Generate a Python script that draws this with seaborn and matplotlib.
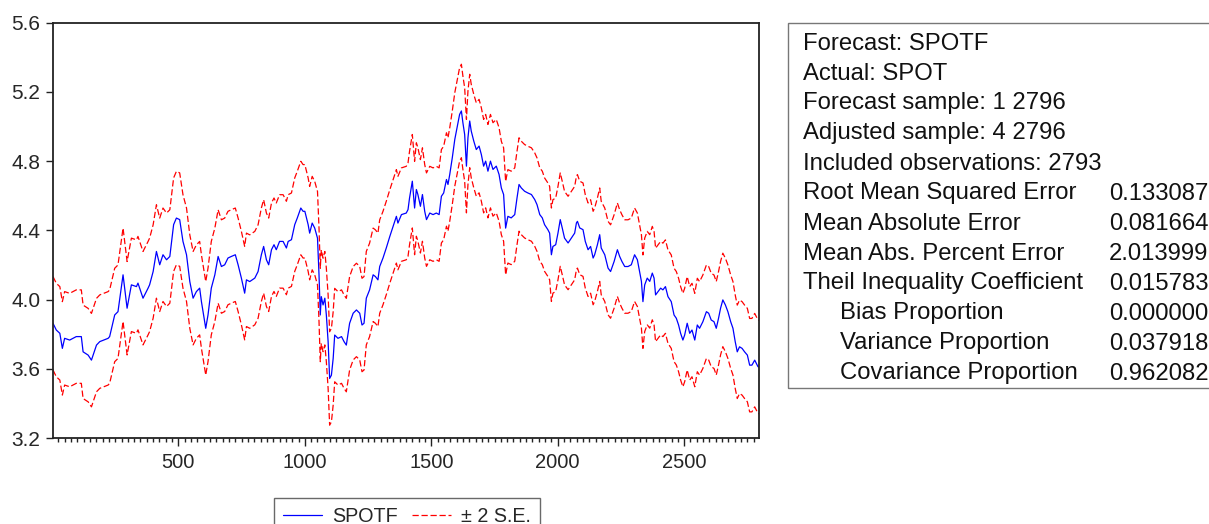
import matplotlib
matplotlib.use("Agg")
import matplotlib.pyplot as plt
import seaborn as sns
from matplotlib.patches import Rectangle
from matplotlib.ticker import MultipleLocator, FormatStrFormatter

obs = [4, 17, 31, 41, 50, 70, 96, 116, 123, 143, 156, 176, 189, 222, 228, 248,
       261, 281, 297, 314, 334, 340, 360, 380, 386, 400, 413, 426, 439, 453,
       466, 481, 492, 505, 518, 532, 545, 558, 571, 584, 591, 604, 608, 617,
       630, 644, 657, 670,
       683, 696, 709, 725, 736, 749, 762, 769, 782, 802, 815, 828, 837, 848,
       857, 868, 878, 887, 900, 914, 927, 934, 947, 960, 970, 984, 993, 1000,
       1013, 1019, 1029, 1039, 1050, 1056, 1061, 1065, 1072, 1079, 1085, 1092,
       1098, 1105, 1112, 1118, 1131, 1145, 1155, 1164, 1177, 1191, 1204, 1217,
       1226, 1234, 1243, 1256, 1270, 1279, 1289, 1296, 1309, 1322, 1336, 1349,
       1362, 1368, 1382,
       1401, 1408, 1414, 1425, 1434, 1441, 1447, 1457, 1465, 1474, 1481, 1494,
       1507, 1520, 1531, 1540, 1549, 1560, 1566, 1573, 1583, 1593, 1602, 1612,
       1619, 1625, 1632, 1639, 1645, 1652, 1658, 1668, 1678, 1689, 1698, 1707,
       1715, 1724, 1734, 1744, 1757, 1768, 1777, 1786, 1794, 1803, 1816, 1830,
       1839, 1847, 1856, 1869, 1882, 1896, 1909, 1918, 1929, 1939, 1948, 1961,
       1968, 1975, 1981, 1992, 2001, 2010, 2018, 2027, 2041, 2054, 2067, 2074,
       2078, 2087, 2100, 2109, 2120, 2130, 2140, 2146, 2157, 2166, 2172, 2186,
       2199, 2209, 2223, 2236, 2245, 2254, 2265, 2278, 2291, 2304, 2315, 2321,
       2331, 2337, 2344, 2354, 2364, 2374, 2381, 2387, 2397, 2407, 2416, 2426,
       2436, 2449, 2460, 2469, 2478, 2486, 2495, 2502, 2512, 2522, 2531, 2542,
       2552, 2561, 2574, 2588, 2597, 2607, 2618, 2627, 2636, 2644, 2653, 2663,
       2673, 2684, 2693, 2702, 2710, 2719, 2729, 2739, 2750, 2759, 2768, 2779,
       2792, 2796]

spotf = [3.863, 3.824, 3.805, 3.718, 3.776, 3.766, 3.786, 3.786, 3.698, 3.679,
         3.650, 3.737, 3.757, 3.776, 3.786, 3.911, 3.930, 4.143, 3.950, 4.085,
         4.075, 4.095, 4.008, 4.066, 4.085, 4.162, 4.278, 4.201, 4.259, 4.230,
         4.249, 4.433, 4.471, 4.462, 4.336, 4.259, 4.104, 4.008, 4.046, 4.066,
         3.988, 3.872, 3.834, 3.911, 4.066, 4.143, 4.249, 4.191,
         4.201, 4.240, 4.249, 4.259, 4.201, 4.124, 4.037, 4.114, 4.104, 4.124,
         4.162, 4.259, 4.307, 4.230, 4.201, 4.288, 4.317, 4.288, 4.336, 4.336,
         4.298, 4.336, 4.346, 4.433, 4.471, 4.529, 4.510, 4.510, 4.433, 4.384,
         4.442, 4.413, 4.355, 4.143, 3.911, 4.017, 3.969, 4.008, 3.911, 3.757,
         3.544, 3.563, 3.660, 3.795, 3.776, 3.786, 3.757, 3.737, 3.863, 3.921,
         3.940, 3.921, 3.853, 3.863, 4.008, 4.056, 4.143, 4.133, 4.114, 4.191,
         4.240, 4.298, 4.365, 4.423, 4.481, 4.442, 4.491,
         4.500, 4.520, 4.587, 4.684, 4.529, 4.636, 4.607, 4.539, 4.607, 4.510,
         4.462, 4.500, 4.491, 4.500, 4.491, 4.597, 4.616, 4.694, 4.665, 4.723,
         4.819, 4.926, 4.993, 5.070, 5.090, 5.022, 4.954, 4.771, 4.935, 5.032,
         4.974, 4.916, 4.867, 4.887, 4.838, 4.771, 4.800, 4.742, 4.800, 4.752,
         4.771, 4.723, 4.645, 4.607, 4.413, 4.481, 4.472, 4.491, 4.587, 4.665,
         4.645, 4.626, 4.616, 4.607, 4.578, 4.549, 4.491, 4.472, 4.433, 4.404,
         4.384, 4.259, 4.307, 4.317, 4.384, 4.462, 4.413, 4.355, 4.327, 4.355,
         4.384, 4.443,
         4.452, 4.414, 4.404, 4.336, 4.288, 4.307, 4.240, 4.259, 4.317, 4.375,
         4.298, 4.259, 4.182, 4.162, 4.220, 4.288, 4.249, 4.220, 4.191, 4.191,
         4.201, 4.259, 4.230, 4.182, 4.105, 3.988, 4.085, 4.124, 4.105, 4.153,
         4.124, 4.027, 4.046, 4.066, 4.056, 4.075, 4.017, 3.988, 3.911, 3.892,
         3.853, 3.805, 3.766, 3.795, 3.863, 3.805, 3.824, 3.766, 3.853, 3.834,
         3.872, 3.930, 3.921, 3.882, 3.872, 3.834, 3.892, 3.950, 3.998, 3.969,
         3.930, 3.872, 3.834, 3.756, 3.698, 3.727, 3.718, 3.698, 3.679, 3.621,
         3.621, 3.650, 3.612, 3.610]

two_se = 0.27  # half-width of the forecast band

upper = [v + two_se for v in spotf]
lower = [v - two_se for v in spotf]

stat_names = ["Forecast: SPOTF", "Actual: SPOT", "Forecast sample: 1 2796",
              "Adjusted sample: 4 2796", "Included observations: 2793",
              "Root Mean Squared Error", "Mean Absolute Error",
              "Mean Abs. Percent Error", "Theil Inequality Coefficient",
              "Bias Proportion", "Variance Proportion",
              "Covariance Proportion"]
stat_indent = [False] * 9 + [True] * 3
stat_values = ["", "", "", "", "", "0.133087", "0.081664", "2.013999",
               "0.015783", "0.000000", "0.037918", "0.962082"]

yticks = [3.2, 3.6, 4.0, 4.4, 4.8, 5.2, 5.6]
xticks = [500, 1000, 1500, 2000, 2500]

sns.set_theme(style="white")
plt.rcParams['font.family'] = ['Liberation Sans', 'DejaVu Sans']

W, H = 1209, 524
fig = plt.figure(figsize=(W / 100, H / 100), dpi=100)
ax = fig.add_axes([53 / W, 1 - 438 / H, (759 - 53) / W, (438 - 22.7) / H])

sns.lineplot(x=obs, y=spotf, ax=ax, color="#0000ff", lw=0.9, label="SPOTF")
sns.lineplot(x=obs, y=upper, ax=ax, color="#ff0000", lw=0.9,
             linestyle=(0, (5, 2.2)), label="\u00b1 2 S.E.")
sns.lineplot(x=obs, y=lower, ax=ax, color="#ff0000", lw=0.9,
             linestyle=(0, (5, 2.2)))

ax.set_xlim(4, 2796)
ax.set_ylim(3.2, 5.6)
ax.set_xticks(xticks)
ax.set_yticks(yticks)
ax.yaxis.set_major_formatter(FormatStrFormatter("%.1f"))
ax.xaxis.set_minor_locator(MultipleLocator(25))
ax.tick_params(axis="x", which="major", direction="out", length=6, width=1,
               color="#222222", labelsize=14.5, pad=5, bottom=True)
ax.tick_params(axis="x", which="minor", direction="out", length=3, width=1,
               color="#222222", bottom=True)
ax.tick_params(axis="y", which="major", direction="out", length=5, width=1,
               color="#222222", labelsize=15, pad=4, left=True)
for s in ax.spines.values():
    s.set_visible(True)
    s.set_color("#222222")
    s.set_linewidth(1.3)
ax.set_xlabel("")
ax.set_ylabel("")

handles, labels = ax.get_legend_handles_labels()
ax.get_legend().remove()
leg = fig.legend(handles, labels, loc="upper center", ncol=2,
                 bbox_to_anchor=(407 / W, 1 - 498 / H),
                 bbox_transform=fig.transFigure, frameon=True, fancybox=False,
                 fontsize=14.2, handlelength=2.0, handletextpad=0.5,
                 columnspacing=0.7, borderpad=0.45, borderaxespad=0)
leg.get_frame().set_edgecolor("#444444")
leg.get_frame().set_linewidth(1.0)

# statistics box on the right
box = Rectangle((788 / W, 1 - 388.3 / H), (1230 - 788) / W, (388.3 - 22.7) / H,
                transform=fig.transFigure, fill=False, edgecolor="#777777",
                lw=1.0, clip_on=False)
fig.patches.append(box)
row_y = 43.5
for name, ind, val in zip(stat_names, stat_indent, stat_values):
    x0 = 840 if ind else 803
    fig.text(x0 / W, 1 - row_y / H, name, fontsize=17.2, va="center",
             ha="left", color="#111111")
    if val:
        fig.text(1109 / W, 1 - row_y / H, val, fontsize=17.2, va="center",
                 ha="left", color="#111111")
    row_y += 30

fig.savefig("out.png", dpi=100)
